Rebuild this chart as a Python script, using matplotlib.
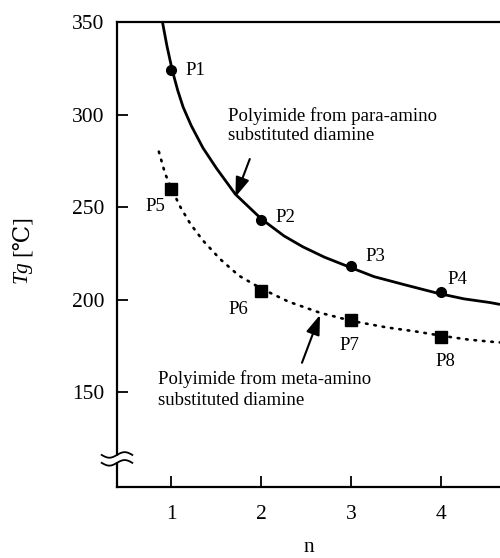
import matplotlib
matplotlib.use("Agg")
import matplotlib.pyplot as plt
import numpy as np

plt.rcParams['font.family'] = ['Liberation Serif', 'DejaVu Serif', 'DejaVu Sans']

# Measured points
para_n = [1, 2, 3, 4]
para_tg = [324, 243, 218, 204]
para_labels = ["P1", "P2", "P3", "P4"]
meta_n = [1, 2, 3, 4]
meta_tg = [260, 205, 189, 180]
meta_labels = ["P5", "P6", "P7", "P8"]

# Trend curves
para_curve_n = [0.90, 0.95, 1.01, 1.07, 1.13, 1.22, 1.35, 1.50, 1.71, 2.00, 2.25, 2.46, 2.70, 2.95, 3.25, 3.60, 3.96, 4.25, 4.54, 4.65]
para_curve_tg = [350, 337, 323.7, 313, 304, 294, 282, 271, 257, 243.6, 234.5, 228.6, 223, 218.2, 212.5, 208, 203.5, 200.5, 198.5, 197.5]
meta_curve_n = [0.86, 0.93, 1.02, 1.10, 1.21, 1.35, 1.54, 1.75, 2.00, 2.30, 2.65, 3.01, 3.40, 3.70, 4.01, 4.30, 4.54, 4.65]
meta_curve_tg = [280, 268, 258, 250, 241, 232, 222, 213, 206, 199, 193, 188.5, 185, 183, 180.5, 178.5, 177.4, 177]

fig = plt.figure(figsize=(5.0, 5.58), dpi=100)
ax = fig.add_axes([0.234, 0.1272, 0.766, 0.8334])

ax.plot(para_curve_n, para_curve_tg, color='black', lw=2.0, solid_capstyle='butt')
ax.plot(meta_curve_n, meta_curve_tg, color='black', lw=1.9,
        linestyle=(0, (0.6, 2.6)), dash_capstyle='round')
ax.plot(para_n, para_tg, 'o', color='black', ms=7)
ax.plot(meta_n, meta_tg, 's', color='black', ms=8)

fs = 13.5
para_off = {"P1": (10, 0), "P2": (10, 2), "P3": (10, 7), "P4": (4, 9)}
meta_off = {"P5": (-19, -13), "P6": (-24, -14), "P7": (-9, -18), "P8": (-4, -18)}
for n, t, lab in zip(para_n, para_tg, para_labels):
    ax.annotate(lab, (n, t), xytext=para_off[lab], textcoords='offset points',
                ha='left', va='center', fontsize=fs)
for n, t, lab in zip(meta_n, meta_tg, meta_labels):
    ax.annotate(lab, (n, t), xytext=meta_off[lab], textcoords='offset points',
                ha='left', va='center', fontsize=fs)

arrow_style = '-|>,head_length=0.85,head_width=0.3'
ax.text(1.63, 294, "Polyimide from para-amino\nsubstituted diamine", fontsize=fs,
        ha='left', va='center', linespacing=1.15)
ax.annotate("", xy=(1.71, 255.5), xytext=(1.87, 276),
            arrowprops=dict(arrowstyle=arrow_style, color='black', lw=1.5,
                            mutation_scale=14, shrinkA=0, shrinkB=0))
ax.text(0.85, 151.5, "Polyimide from meta-amino\nsubstituted diamine", fontsize=fs,
        ha='left', va='center', linespacing=1.25)
ax.annotate("", xy=(2.65, 191.8), xytext=(2.45, 166),
            arrowprops=dict(arrowstyle=arrow_style, color='black', lw=1.5,
                            mutation_scale=14, shrinkA=0, shrinkB=0))

ax.set_xlim(0.395, 4.65)
ax.set_ylim(98.9, 350)
ax.set_xticks([1, 2, 3, 4])
ax.set_yticks([150, 200, 250, 300, 350])
ax.tick_params(direction='in', length=8, width=1.3, labelsize=15.5)
ax.tick_params(axis='x', pad=13)
ax.tick_params(axis='y', pad=9)
for s in ['left', 'bottom', 'top']:
    ax.spines[s].set_linewidth(1.6)
ax.spines['right'].set_visible(False)

ax.set_xlabel("n", fontsize=15.5, labelpad=10)

# y label: italic Tg followed by [℃]
fig.text(22 / 500, 1 - 283 / 558, "Tg", rotation=90, fontsize=15.5, style='italic',
         ha='center', va='bottom')
fig.text(22 / 500, 1 - 256 / 558, "[℃]", rotation=90, fontsize=16.5,
         ha='center', va='bottom')

# axis break mark
bx = np.linspace(-0.04, 0.04, 30)
for y0 in (0.052, 0.069):
    ax.plot(bx, y0 + 0.006 * np.sin(bx / 0.04 * np.pi), transform=ax.transAxes,
            color='black', lw=1.3, clip_on=False, zorder=5)
ax.fill_between([-0.008, 0.008], 0.055, 0.066, transform=ax.transAxes,
                color='white', clip_on=False, zorder=4)

fig.savefig("out.png", dpi=100)
